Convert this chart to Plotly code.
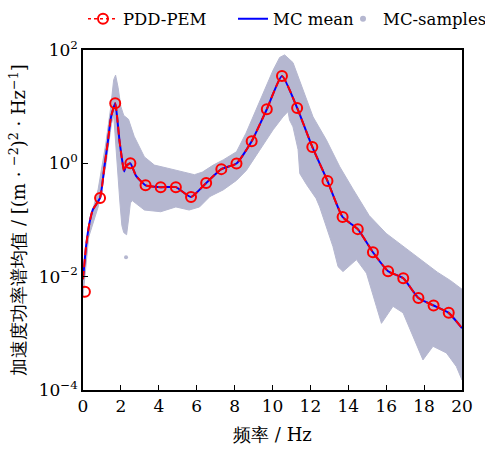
import plotly.graph_objects as go

# Frequency axis (Hz) and mean PSD curve of the acceleration response
curve_freq = [0.0, 0.16, 0.34, 0.51, 0.9, 1.13, 1.3, 1.48, 1.7, 1.8, 1.92, 2.04, 2.17,
              2.27, 2.5, 2.8, 3.3, 4.1, 4.9, 5.7, 6.5, 7.3, 8.1, 8.9, 9.7, 10.5, 11.3,
              12.1, 12.9, 13.7, 14.5, 15.3, 16.1, 16.9, 17.7, 18.5, 19.3, 20.0]
mc_mean = [0.009, 0.034, 0.088, 0.15, 0.245, 0.87, 2.25, 6.6, 11.5, 6.6, 2.6, 1.3, 0.72,
           0.9, 1.0, 0.6, 0.41, 0.38, 0.38, 0.255, 0.45, 0.79, 0.99, 2.45, 9.0, 34.8, 9.5,
           1.95, 0.49, 0.113, 0.069, 0.027, 0.0125, 0.0094, 0.0042, 0.0031, 0.0023, 0.00123]
# PDD-PEM curve coincides with the MC mean at this scale
pdd_curve = list(mc_mean)

# PDD-PEM evaluation points (markers)
pdd_freq = [0.1, 0.9, 1.7, 2.5, 3.3, 4.1, 4.9, 5.7, 6.5, 7.3, 8.1, 8.9, 9.7, 10.5, 11.3,
            12.1, 12.9, 13.7, 14.5, 15.3, 16.1, 16.9, 17.7, 18.5, 19.3]
pdd_psd = [0.0054, 0.245, 11.5, 1.0, 0.41, 0.38, 0.38, 0.255, 0.45, 0.79, 0.99, 2.45, 9.0,
           34.8, 9.5, 1.95, 0.49, 0.113, 0.069, 0.027, 0.0125, 0.0094, 0.0042, 0.0031, 0.0023]

# Envelope of the Monte Carlo sample cloud
upper_freq = [0.0, 0.3, 0.8, 1.2, 1.45, 1.62, 1.72, 1.85, 2.0, 2.15, 2.4, 2.7, 3.24, 3.77,
              4.47, 5.17, 5.88, 6.3, 6.87, 7.4, 8.1, 8.6, 9.32, 10.03, 10.38, 10.64, 11.08,
              11.6, 12.14, 12.84, 13.55, 14.25, 15.1, 16.0, 16.9, 17.8, 18.7, 19.4, 20.0]
upper_psd = [0.007, 0.08, 0.35, 2.2, 9.0, 30.0, 36.0, 22.0, 10.0, 7.0, 6.0, 3.0, 1.3, 0.93,
             0.82, 0.71, 0.63, 0.7, 0.93, 1.15, 1.6, 3.4, 12.0, 44.0, 74.0, 82.0, 60.0,
             20.0, 6.6, 2.6, 0.87, 0.35, 0.12, 0.058, 0.034, 0.02, 0.012, 0.0085, 0.006]
lower_freq = [0.0, 0.3, 0.8, 1.2, 1.5, 1.62, 1.72, 1.82, 1.95, 2.05, 2.15, 2.3, 2.4, 2.5,
              2.6, 3.24, 4.1, 4.9, 5.6, 6.15, 6.7, 7.4, 8.1, 8.62, 9.32, 10.03, 10.55,
              10.82, 10.9, 11.08, 11.35, 11.44, 11.8, 12.3, 12.49, 13.19, 13.46, 13.72,
              14.43, 14.96, 15.48, 15.75, 16.36, 16.89, 17.41, 17.94, 18.47, 19.18, 19.7, 20.0]
lower_psd = [0.0045, 0.05, 0.17, 0.9, 5.0, 7.0, 3.0, 0.8, 0.2, 0.08, 0.06, 0.055, 0.1, 0.2,
             0.22, 0.15, 0.14, 0.17, 0.15, 0.17, 0.26, 0.34, 0.5, 0.75, 1.7, 3.9, 6.6,
             8.2, 5.8, 4.4, 1.74, 0.66, 0.42, 0.24, 0.17, 0.034, 0.015, 0.0123,
             0.02, 0.0115, 0.003, 0.0015, 0.003, 0.0023, 0.00088, 0.00034, 0.00059, 0.00045,
             0.00026, 0.00015]
# isolated sample below the cloud
stray_freq = [2.27]
stray_psd = [0.022]

SAMPLE_COLOR = "#b5b7d0"
FONT = "DejaVu Serif"

fig = go.Figure()

# sample cloud as a closed polygon: upper edge forward, lower edge backward
fig.add_trace(go.Scatter(
    x=upper_freq + lower_freq[::-1],
    y=upper_psd + lower_psd[::-1],
    mode="lines", fill="toself", fillcolor=SAMPLE_COLOR,
    line=dict(color=SAMPLE_COLOR, width=1), showlegend=False, hoverinfo="skip"))
fig.add_trace(go.Scatter(
    x=stray_freq, y=stray_psd, mode="markers",
    marker=dict(color=SAMPLE_COLOR, size=4), showlegend=False))

# MC mean
fig.add_trace(go.Scatter(
    x=curve_freq, y=mc_mean, mode="lines", name="MC mean",
    line=dict(color="#0000ff", width=2, shape="spline", smoothing=0.5),
    legend="legend2"))

# PDD-PEM curve and points
fig.add_trace(go.Scatter(
    x=curve_freq, y=pdd_curve, mode="lines", showlegend=False,
    line=dict(color="#ff0000", width=2, dash="8px,4px", shape="spline", smoothing=0.5)))
fig.add_trace(go.Scatter(
    x=pdd_freq, y=pdd_psd, mode="markers", showlegend=False,
    marker=dict(symbol="circle-open", size=10, color="#ff0000", line=dict(width=2))))

# legend entries
fig.add_trace(go.Scatter(
    x=[None], y=[None], mode="lines+markers", name="PDD-PEM",
    line=dict(color="#ff0000", width=1.5, dash="dot"),
    marker=dict(symbol="circle-open", size=10, color="#ff0000", line=dict(width=2)),
    legend="legend"))
fig.add_trace(go.Scatter(
    x=[None], y=[None], mode="markers", name="MC-samples",
    marker=dict(color=SAMPLE_COLOR, size=6), legend="legend3"))

ytick_vals = [1e-4, 1e-2, 1, 1e2]
ytick_text = ["10<sup>−4</sup>", "10<sup>−2</sup>", "10<sup>0</sup>", "10<sup>2</sup>"]

legend_common = dict(orientation="h", xref="container", yref="container",
                     xanchor="left", yanchor="middle", y=1 - 19 / 450,
                     font=dict(family=FONT, size=16.5, color="black"),
                     bgcolor="rgba(0,0,0,0)", borderwidth=0)

fig.update_layout(
    width=485, height=450,
    margin=dict(l=83, r=23, t=50, b=60, autoexpand=False),
    paper_bgcolor="white", plot_bgcolor="white",
    font=dict(family=FONT, size=17, color="black"),
    legend=dict(x=83 / 485, **legend_common),
    legend2=dict(x=233 / 485, **legend_common),
    legend3=dict(x=343 / 485, **legend_common),
    xaxis=dict(
        range=[0, 20], tickvals=list(range(0, 21, 2)),
        ticks="inside", ticklen=5, tickwidth=1.2, tickcolor="black",
        showline=True, linecolor="black", linewidth=1.5, mirror=True,
        showgrid=False, zeroline=False,
        tickfont=dict(family=FONT, size=17),
        title=dict(text="频率 / Hz", font=dict(family=FONT, size=18), standoff=13)),
    yaxis=dict(
        type="log", range=[-4, 2], tickvals=ytick_vals, ticktext=ytick_text,
        ticks="inside", ticklen=5, tickwidth=1.2, tickcolor="black",
        showline=True, linecolor="black", linewidth=1.5, mirror=True,
        showgrid=False, zeroline=False,
        tickfont=dict(family=FONT, size=17),
        title=dict(text="加速度功率谱均值 / [(m · <sup>−2</sup>)<sup>2</sup> · Hz<sup>−1</sup>]",
                   font=dict(family=FONT, size=18), standoff=8)),
)

fig.write_html("out.html")
